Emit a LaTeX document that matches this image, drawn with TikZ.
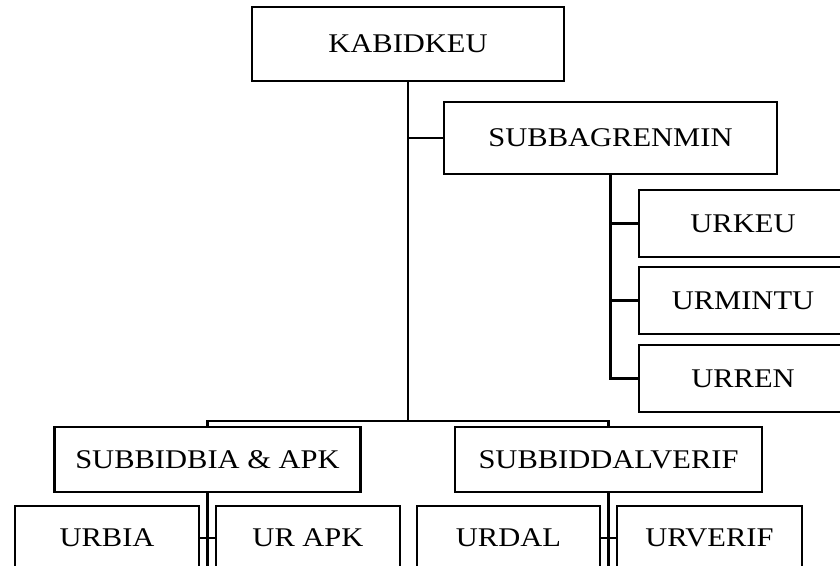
\documentclass[tikz,border=0pt]{standalone}
\usepackage{fontspec}
\setmainfont{Liberation Serif}[FakeStretch=1.13]
\begin{document}
\begin{tikzpicture}[x=1pt,y=-1pt,
  box/.style={draw=black,line width=2.3pt,inner sep=0pt,align=center,
    font=\fontsize{27}{30}\selectfont},
  conn/.style={draw=black,line width=2.2pt}]
\useasboundingbox (0,0) rectangle (840,565);
\clip (0,0) rectangle (840,565);
% nodes
\node[box,minimum width=312pt,minimum height=74pt] (k) at (408,44) {KABIDKEU};
\node[box,minimum width=333pt,minimum height=72pt] (sb) at (610.5,138) {SUBBAGRENMIN};
\node[box,minimum width=208pt,minimum height=67pt] (urkeu) at (743,223.5) {URKEU};
\node[box,minimum width=208pt,minimum height=67pt] (urmintu) at (743,300.5) {URMINTU};
\node[box,minimum width=208pt,minimum height=67pt] (urren) at (743,378.5) {URREN};
\node[box,minimum width=306pt,minimum height=65pt] (sbia) at (207.5,459.5) {SUBBIDBIA \& APK};
\node[box,minimum width=307pt,minimum height=65pt] (sdal) at (608.5,459.5) {SUBBIDDALVERIF};
\node[box,minimum width=184pt,minimum height=64pt] (urbia) at (107,538) {URBIA};
\node[box,minimum width=184pt,minimum height=64pt] (urapk) at (308,538) {UR APK};
\node[box,minimum width=183pt,minimum height=64pt] (urdal) at (508.5,538) {URDAL};
\node[box,minimum width=185pt,minimum height=64pt] (urverif) at (709.5,538) {URVERIF};
\coordinate (bar) at (408,421);
\coordinate (bot) at (0,570);
% connectors
\draw[conn] (k.south) -- (bar);
\draw[conn] (sb.west) -- (k.south |- sb.west);
\draw[conn] (sbia.north) |- (bar) -| (sdal.north);
\draw[conn] (sb.south) |- (urren.west);
\draw[conn] (sb.south |- urkeu.west) -- (urkeu.west);
\draw[conn] (sb.south |- urmintu.west) -- (urmintu.west);
\draw[conn] (sbia.south) -- (sbia.south |- bot);
\draw[conn] (urbia.east) -- (urapk.west);
\draw[conn] (sdal.south) -- (sdal.south |- bot);
\draw[conn] (urdal.east) -- (urverif.west);
\end{tikzpicture}
\end{document}
